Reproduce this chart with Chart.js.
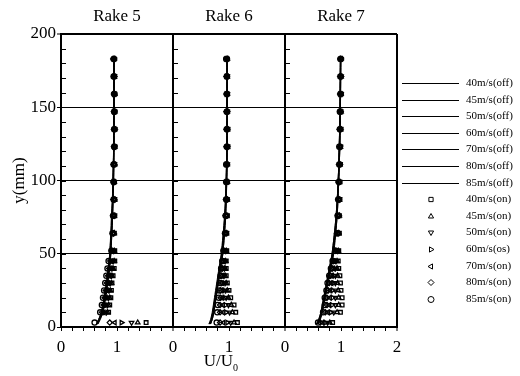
<!DOCTYPE html>
<html><head><meta charset="utf-8">
<script src="https://cdn.jsdelivr.net/npm/chart.js@4.4.0/dist/chart.umd.min.js"></script>
<style>html,body{margin:0;padding:0;background:#fff}#wrap{width:520px;height:376px;position:relative}</style>
</head><body><div id="wrap"><canvas id="c" width="520" height="376"></canvas></div>
<script>
// ---------------- data ----------------
const panelTitles = ['Rake 5', 'Rake 6', 'Rake 7'];
const speeds = ['40', '45', '50', '60', '70', '80', '85'];
const offLabels = ['40m/s(off)', '45m/s(off)', '50m/s(off)', '60m/s(off)', '70m/s(off)', '80m/s(off)', '85m/s(off)'];
const onLabels = ['40m/s(on)', '45m/s(on)', '50m/s(on)', '60m/s(os)', '70m/s(on)', '80m/s(on)', '85m/s(on)'];
const xTickLabels = ['0', '1', '0', '1', '0', '1', '2'];
const yTickLabels = ['0', '50', '100', '150', '200'];

// heights (mm) of measured points ("on") and of the smooth profiles ("off")
const yOn = [3, 10, 15, 20, 25, 30, 35, 40, 45, 52, 64, 76, 87, 99, 111, 123, 135, 147, 159, 171, 183];
const yOff = [2, 5, 10, 20, 30, 40, 50, 75, 100, 125, 150, 185];

// U/U0, rows in speed order 40,45,50,60,70,80,85
const rake5On = [
  [1.52,0.85,0.87,0.89,0.90,0.91,0.93,0.95,0.96,0.96,0.95,0.96,0.96,0.95,0.96,0.96,0.96,0.96,0.96,0.96,0.95],
  [1.37,0.83,0.85,0.87,0.88,0.90,0.91,0.93,0.95,0.95,0.95,0.95,0.96,0.95,0.96,0.96,0.96,0.96,0.96,0.95,0.95],
  [1.26,0.81,0.83,0.85,0.86,0.88,0.90,0.91,0.93,0.94,0.94,0.95,0.95,0.95,0.95,0.96,0.96,0.96,0.95,0.95,0.95],
  [1.08,0.78,0.80,0.83,0.84,0.86,0.88,0.90,0.91,0.93,0.94,0.94,0.95,0.94,0.95,0.95,0.96,0.95,0.95,0.95,0.95],
  [0.96,0.76,0.78,0.80,0.82,0.84,0.86,0.88,0.90,0.92,0.93,0.94,0.94,0.94,0.95,0.95,0.95,0.95,0.95,0.95,0.94],
  [0.87,0.73,0.76,0.78,0.80,0.82,0.84,0.86,0.88,0.91,0.93,0.93,0.94,0.94,0.94,0.95,0.95,0.95,0.95,0.95,0.94],
  [0.60,0.70,0.73,0.75,0.77,0.79,0.81,0.83,0.85,0.90,0.92,0.93,0.94,0.94,0.94,0.95,0.95,0.95,0.95,0.94,0.94]
];
const rake6On = [
  [1.15,1.12,1.09,1.03,1.00,0.97,0.95,0.95,0.95,0.96,0.96,0.97,0.97,0.97,0.97,0.98,0.98,0.97,0.97,0.97,0.97],
  [1.09,1.06,1.04,0.99,0.97,0.95,0.93,0.93,0.94,0.95,0.95,0.96,0.97,0.97,0.97,0.97,0.97,0.97,0.97,0.97,0.97],
  [1.03,1.01,0.99,0.95,0.94,0.93,0.91,0.92,0.93,0.94,0.95,0.96,0.96,0.96,0.97,0.97,0.97,0.97,0.97,0.97,0.96],
  [0.97,0.95,0.94,0.92,0.91,0.90,0.90,0.90,0.92,0.93,0.94,0.95,0.96,0.96,0.96,0.97,0.97,0.97,0.96,0.96,0.96],
  [0.90,0.89,0.89,0.88,0.88,0.88,0.88,0.89,0.90,0.92,0.94,0.95,0.95,0.96,0.96,0.96,0.96,0.96,0.96,0.96,0.96],
  [0.84,0.84,0.84,0.85,0.85,0.86,0.86,0.88,0.89,0.91,0.93,0.94,0.95,0.95,0.96,0.96,0.96,0.96,0.96,0.96,0.96],
  [0.78,0.79,0.80,0.82,0.83,0.84,0.85,0.86,0.88,0.90,0.93,0.94,0.95,0.95,0.95,0.96,0.96,0.96,0.96,0.96,0.95]
];
const rake7On = [
  [0.85,0.99,1.02,1.02,1.00,0.99,0.98,0.96,0.95,0.96,0.97,0.97,0.98,0.98,0.99,0.99,1.00,1.00,1.00,1.00,1.00],
  [0.80,0.93,0.96,0.96,0.95,0.94,0.94,0.93,0.93,0.95,0.96,0.97,0.97,0.97,0.98,0.99,0.99,1.00,1.00,1.00,1.00],
  [0.76,0.87,0.90,0.90,0.90,0.90,0.90,0.90,0.91,0.94,0.95,0.96,0.97,0.97,0.98,0.99,0.99,0.99,1.00,1.00,1.00],
  [0.72,0.82,0.84,0.85,0.85,0.86,0.87,0.88,0.89,0.93,0.95,0.96,0.96,0.97,0.98,0.98,0.99,0.99,0.99,1.00,1.00],
  [0.67,0.76,0.79,0.80,0.81,0.83,0.84,0.86,0.88,0.92,0.94,0.95,0.96,0.96,0.97,0.98,0.98,0.99,0.99,0.99,1.00],
  [0.63,0.72,0.75,0.75,0.77,0.79,0.81,0.84,0.87,0.91,0.93,0.95,0.95,0.96,0.97,0.98,0.98,0.99,0.99,0.99,0.99],
  [0.59,0.68,0.71,0.71,0.74,0.76,0.79,0.82,0.85,0.90,0.93,0.94,0.95,0.96,0.97,0.97,0.98,0.98,0.99,0.99,0.99]
];
const rake5Off = [
  [0.66,0.70,0.75,0.80,0.84,0.87,0.89,0.92,0.94,0.95,0.95,0.95],
  [0.65,0.69,0.74,0.79,0.83,0.86,0.88,0.92,0.94,0.95,0.95,0.95],
  [0.65,0.69,0.74,0.79,0.83,0.86,0.89,0.92,0.93,0.94,0.95,0.95],
  [0.64,0.68,0.73,0.78,0.82,0.85,0.88,0.91,0.93,0.94,0.95,0.95],
  [0.64,0.68,0.73,0.78,0.82,0.85,0.88,0.91,0.93,0.94,0.94,0.95],
  [0.63,0.67,0.72,0.77,0.81,0.85,0.87,0.91,0.93,0.94,0.94,0.94],
  [0.63,0.67,0.72,0.77,0.81,0.84,0.87,0.90,0.93,0.94,0.94,0.94]
];
const rake6Off = [
  [0.67,0.70,0.73,0.77,0.81,0.85,0.89,0.94,0.96,0.97,0.97,0.97],
  [0.67,0.70,0.73,0.77,0.81,0.85,0.89,0.94,0.96,0.97,0.97,0.97],
  [0.66,0.69,0.72,0.76,0.80,0.84,0.88,0.93,0.96,0.97,0.97,0.97],
  [0.66,0.69,0.72,0.76,0.80,0.84,0.88,0.93,0.95,0.96,0.97,0.97],
  [0.65,0.68,0.71,0.75,0.79,0.83,0.87,0.93,0.95,0.96,0.96,0.96],
  [0.65,0.68,0.71,0.75,0.79,0.83,0.87,0.92,0.95,0.96,0.96,0.96],
  [0.64,0.67,0.70,0.74,0.78,0.82,0.86,0.92,0.95,0.96,0.96,0.96]
];
const rake7Off = [
  [0.59,0.63,0.67,0.72,0.77,0.82,0.87,0.93,0.96,0.98,0.99,1.00],
  [0.58,0.62,0.66,0.71,0.76,0.81,0.86,0.93,0.96,0.98,0.99,1.00],
  [0.58,0.62,0.66,0.71,0.76,0.81,0.86,0.92,0.96,0.98,0.99,0.99],
  [0.57,0.61,0.65,0.70,0.75,0.80,0.85,0.92,0.95,0.97,0.99,0.99],
  [0.57,0.61,0.65,0.70,0.75,0.80,0.85,0.92,0.95,0.97,0.98,0.99],
  [0.56,0.60,0.64,0.69,0.74,0.79,0.84,0.91,0.95,0.97,0.98,0.99],
  [0.56,0.60,0.64,0.69,0.74,0.79,0.84,0.91,0.95,0.97,0.98,0.99]
];

// ---------------- styling ----------------
const SERIF = '"Liberation Serif", "Times New Roman", serif';
const markerStyles = ['rect', 'triangle', 'triangle', 'triangle', 'triangle', 'rectRot', 'circle'];
const markerRot = [0, 0, 180, 90, -90, 0, 0];
const PANEL_SPAN = 2; // each rake panel spans U/U0 = 0..2

const onSets = [rake5On, rake6On, rake7On];
const offSets = [rake5Off, rake6Off, rake7Off];

const datasets = [];
for (let p = 0; p < 3; p++) {
  for (let s = 0; s < speeds.length; s++) {
    datasets.push({
      type: 'line',
      label: offLabels[s],
      data: yOff.map((y, i) => ({ x: offSets[p][s][i] + p * PANEL_SPAN, y })),
      borderColor: '#000',
      borderWidth: 1,
      pointRadius: 0,
      tension: 0.25,
      fill: false,
      order: 2
    });
  }
}
for (let p = 0; p < 3; p++) {
  for (let s = 0; s < speeds.length; s++) {
    datasets.push({
      type: 'scatter',
      label: onLabels[s],
      data: yOn.map((y, i) => ({ x: onSets[p][s][i] + p * PANEL_SPAN, y })),
      pointStyle: markerStyles[s],
      rotation: markerRot[s],
      pointRadius: 2.6,
      borderColor: '#000',
      backgroundColor: 'rgba(0,0,0,0)',
      borderWidth: 1.3,
      order: 1
    });
  }
}

function near(v, t) { return Math.abs(v - t) < 1e-6; }

const decorPlugin = {
  id: 'decor',
  afterDraw(chart) {
    const { ctx, scales: { x, y } } = chart;
    ctx.save();
    // inward minor ticks on each panel's left edge
    ctx.strokeStyle = '#000';
    ctx.lineWidth = 1;
    for (let p = 0; p <= 2; p++) {
      const px = Math.round(x.getPixelForValue(p * PANEL_SPAN));
      y.ticks.forEach(t => {
        const py = Math.round(y.getPixelForValue(t.value)) + 0.5;
        ctx.beginPath();
        ctx.moveTo(px, py);
        ctx.lineTo(px + 5, py);
        ctx.stroke();
      });
    }
    // panel titles
    ctx.fillStyle = '#000';
    ctx.font = '17px ' + SERIF;
    ctx.textAlign = 'center';
    ctx.textBaseline = 'middle';
    panelTitles.forEach((t, p) => {
      ctx.fillText(t, x.getPixelForValue(p * PANEL_SPAN + 1), 17);
    });
    // x title U/U0
    const cx = x.getPixelForValue(3);
    ctx.font = '17px ' + SERIF;
    ctx.textAlign = 'right';
    ctx.fillText('U/U', cx + 4, 362);
    ctx.font = '10px ' + SERIF;
    ctx.textAlign = 'left';
    ctx.fillText('0', cx + 4, 368);
    // legend
    const lx0 = 402, lx1 = 459, mx = 431, tx = 466;
    const ly0 = 83, dy = 16.6;
    ctx.font = '11px ' + SERIF;
    ctx.textAlign = 'left';
    ctx.textBaseline = 'middle';
    for (let s = 0; s < speeds.length; s++) {
      const yy = Math.round(ly0 + s * dy) + 0.5;
      ctx.beginPath();
      ctx.lineWidth = 1;
      ctx.moveTo(lx0, yy);
      ctx.lineTo(lx1, yy);
      ctx.stroke();
      ctx.fillText(offLabels[s], tx, yy);
    }
    for (let s = 0; s < speeds.length; s++) {
      const yy = Math.round(ly0 + (s + 7) * dy) + 0.5;
      ctx.fillStyle = 'rgba(0,0,0,0)';
      ctx.strokeStyle = '#000';
      Chart.helpers.drawPoint(ctx, {
        pointStyle: markerStyles[s], rotation: markerRot[s], radius: 3, borderWidth: 1.3
      }, mx, yy);
      ctx.fillStyle = '#000';
      ctx.fillText(onLabels[s], tx, yy);
    }
    ctx.restore();
  }
};

new Chart(document.getElementById('c'), {
  data: { datasets },
  options: {
    responsive: false,
    animation: false,
    devicePixelRatio: 1,
    layout: { padding: { left: 0, top: 34, right: 123, bottom: 0 } },
    plugins: { legend: { display: false }, tooltip: { enabled: false } },
    scales: {
      x: {
        type: 'linear', min: 0, max: 6,
        afterFit(s) { s.height = 49; },
        ticks: {
          stepSize: 0.2, autoSkip: false, maxRotation: 0, padding: 6,
          color: '#000', font: { family: SERIF, size: 17 },
          callback(v) {
            const r = Math.round(v * 10) / 10;
            return Number.isInteger(r) ? xTickLabels[r] : '';
          }
        },
        grid: {
          color: c => { const v = Math.round(c.tick.value * 10) / 10; return (v === 2 || v === 4 || v === 6) ? '#000' : 'rgba(0,0,0,0)'; },
          lineWidth: c => { const v = Math.round(c.tick.value * 10) / 10; return (v === 2 || v === 4 || v === 6) ? 2 : 1; },
          tickColor: '#000', tickWidth: 1, tickLength: 4, drawTicks: true
        },
        border: { display: true, color: '#000', width: 2 }
      },
      y: {
        type: 'linear', min: 0, max: 200,
        afterFit(s) { s.width = 61; },
        title: { display: true, text: 'y(mm)', color: '#000', font: { family: SERIF, size: 17 }, padding: { top: 9, bottom: 0 } },
        ticks: {
          stepSize: 10, autoSkip: false, padding: 1,
          color: '#000', font: { family: SERIF, size: 17 },
          callback(v) { return (Math.round(v) % 50 === 0) ? yTickLabels[Math.round(v) / 50] : ''; }
        },
        grid: {
          color: c => (Math.round(c.tick.value) % 50 === 0 && c.tick.value > 0) ? '#000' : 'rgba(0,0,0,0)',
          lineWidth: c => near(c.tick.value, 200) ? 2 : 1,
          tickColor: c => (Math.round(c.tick.value) % 50 === 0) ? '#000' : 'rgba(0,0,0,0)',
          tickWidth: 1, tickLength: 4
        },
        border: { display: true, color: '#000', width: 2 }
      }
    }
  },
  plugins: [decorPlugin]
});
</script>
</body></html>
